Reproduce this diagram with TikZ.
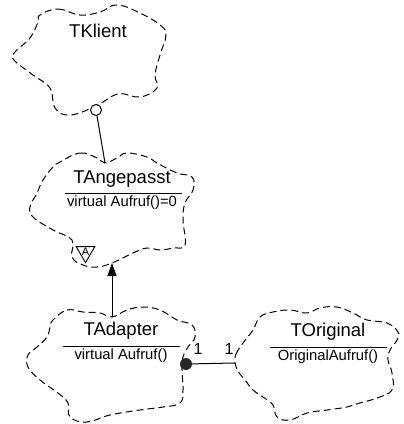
\documentclass[tikz,border=0pt]{standalone}
\usepackage{fontspec}
\setmainfont{Liberation Sans}
\usetikzlibrary{arrows.meta,shapes.geometric}
\begin{document}
\begin{tikzpicture}[x=1pt,y=-1pt,
  cloud/.style={draw, line width=1pt, dash pattern=on 7pt off 4pt},
  classname/.style={font=\fontsize{18.5}{20}\selectfont, inner sep=0pt},
  member/.style={font=\fontsize{14.8}{16}\selectfont, inner sep=0pt},
  mult/.style={font=\fontsize{16}{17}\selectfont, inner sep=0pt},
  sep/.style={line width=0.9pt},
  link/.style={line width=1pt}]
\useasboundingbox (0,0) rectangle (404,424);

% class clouds
\draw[cloud] plot[smooth cycle, tension=0.7] coordinates {
  (40,15) (58,9) (80,15) (100,12) (117,5) (140,13) (160,25) (166,35)
  (160,55) (155,75) (157,88) (140,97) (118,94) (96,106) (70,115) (55,108)
  (50,88) (33,75) (14,60) (15,52) (30,38) (38,22)};
\draw[cloud] plot[smooth cycle, tension=0.7] coordinates {
  (60,162) (80,153) (97,158) (105,163) (117,158) (127,153) (147,157) (157,163)
  (177,173) (192,177) (193,190) (185,203) (183,220) (185,245) (173,248)
  (160,250) (147,248) (133,253) (112,263) (97,267) (83,265) (72,257) (72,240)
  (53,230) (33,217) (30,207) (37,193) (43,180) (53,167)};
\draw[cloud] plot[smooth cycle, tension=0.7] coordinates {
  (53,320) (67,310) (83,312) (100,313) (112,317) (127,310) (143,307) (160,310)
  (177,320) (192,325) (195,337) (188,347) (183,357) (182,370) (183,390)
  (180,403) (163,407) (140,410) (110,415) (87,422) (70,417) (68,403)
  (58,393) (40,380) (28,367) (28,355) (37,347) (47,337) (50,327)};
\draw[cloud] plot[smooth cycle, tension=0.7] coordinates {
  (235,363) (236,354) (243,343) (253,330) (260,317) (273,312) (290,310)
  (307,313) (320,308) (337,307) (353,313) (367,320) (387,323) (398,332)
  (397,340) (390,350) (388,360) (392,373) (392,390) (377,398) (360,403)
  (347,407) (327,410) (307,413) (290,420) (277,417) (273,405) (263,397)
  (253,390) (245,380) (237,370)};

% names, separators and operations
\node[classname] (klient) at (98,31) {TKlient};

\node[classname] (angepasst) at (122,179) {TAngepasst};
\draw[sep] (65,193) -- (182,193);
\node[member] (aufrufabs) at (122,203) {virtual Aufruf()=0};

\node[classname] (adapter) at (121,331) {TAdapter};
\draw[sep] (63,346) -- (180,346);
\node[member] (aufruf) at (121,356) {virtual Aufruf()};

\node[classname] (original) at (328,332) {TOriginal};
\draw[sep] (270,347) -- (387,347);
\node[member] (origaufruf) at (328,357) {OriginalAufruf()};

% abstract-class adornment
\node[draw, line width=0.9pt, regular polygon, regular polygon sides=3,
  shape border rotate=180, minimum size=19pt, inner sep=0pt,
  font=\fontsize{11}{12}\selectfont] (abstract) at (85.5,252) {\raisebox{-1pt}{A}};

% attachment points on the cloud outlines
\coordinate (angtop) at (105,163);
\coordinate (angbottom) at (112,263);
\coordinate (adtop) at (112,317);
\coordinate (origleft) at (235,363);

% uses relation (client side marked with an open circle)
\node[draw, circle, fill=white, line width=1pt, inner sep=0pt,
  minimum size=11pt] (uses) at (96,110) {};
\draw[link] (uses) -- (angtop);

% inheritance
\draw[link, -{Triangle[length=13pt,width=9pt]}] (adtop) -- (angbottom);

% aggregation (filled dot on the adapter side)
\node[circle, fill=black!85, inner sep=0pt, minimum size=12pt] (has) at (186,364) {};
\draw[link] (has) -- (origleft);
\node[mult] (m1) at (198,349) {1};
\node[mult] (m2) at (229,349) {1};
\end{tikzpicture}
\end{document}
